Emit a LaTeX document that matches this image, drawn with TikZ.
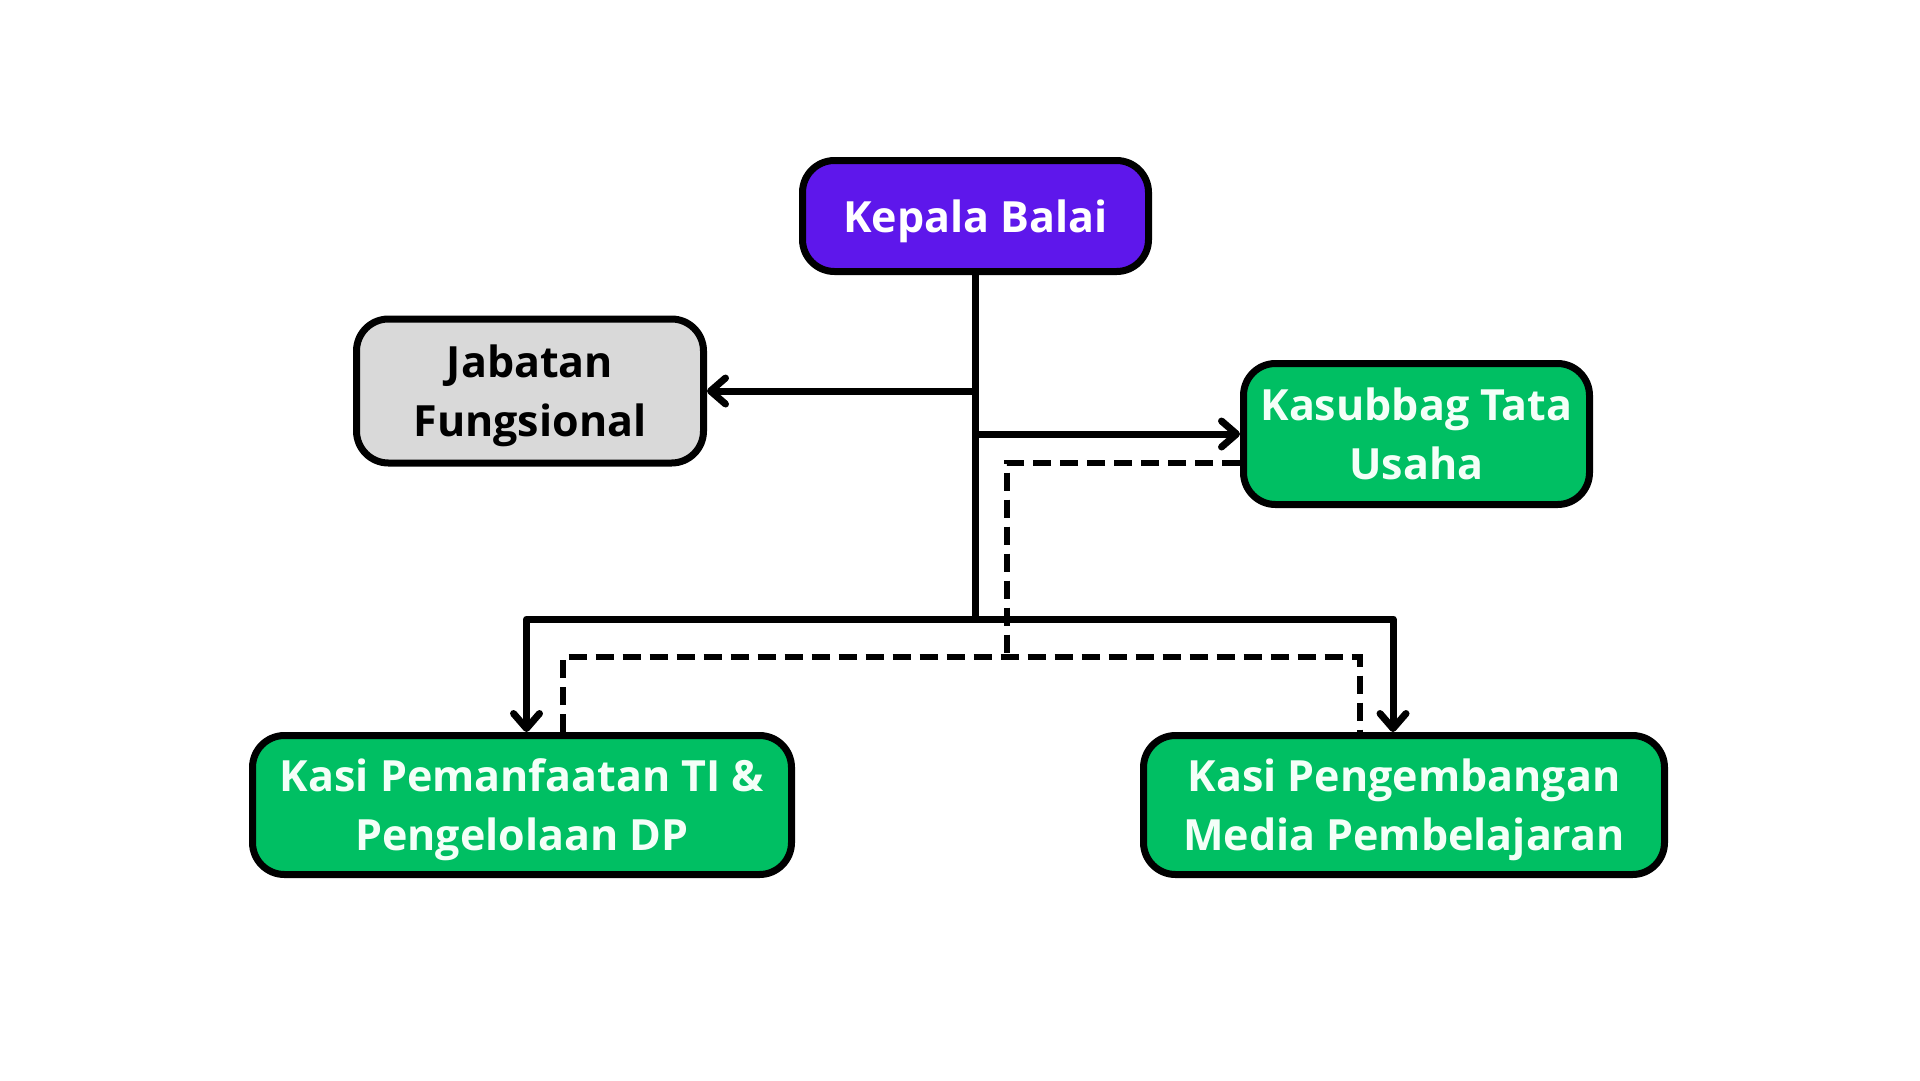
\documentclass[tikz,border=0pt]{standalone}
\usepackage{fontspec}
\setmainfont{Open Sans}
\usetikzlibrary{arrows.meta}
\definecolor{balaipurple}{HTML}{5E17EB}
\definecolor{balaigreen}{HTML}{00BF63}
\definecolor{balaigray}{HTML}{D9D9D9}
\definecolor{boxtext}{HTML}{F4FFF8}
\begin{document}
\begin{tikzpicture}[x=1pt, y=-1pt,
		unitbox/.style = {draw=black, line width=7pt, rounded corners=32pt, align=center, inner sep=0pt,
			font=\fontsize{43}{59}\selectfont\bfseries, text depth=0pt, minimum height=139pt},
		headbox/.style = {unitbox, fill=balaipurple, text=white, minimum width=346pt, minimum height=111pt},
		staffbox/.style = {unitbox, fill=balaigray, text=black, minimum width=347pt, minimum height=144pt},
		sectionbox/.style = {unitbox, fill=balaigreen, text=boxtext},
		link/.style = {line width=7pt, line join=round},
		tolink/.style = {link, -{Straight Barb[length=15pt, width=26pt, round]}},
		dashlink/.style = {line width=6pt, dash pattern=on 18pt off 9pt}
	]
	\useasboundingbox (0,0) rectangle (1920,1080);
	\node[headbox] (kepala) at (975.5,216) {Kepala Balai};
	\node[staffbox] (jabatan) at (530,391) {Jabatan\\Fungsional};
	\node[sectionbox, minimum width=346pt, minimum height=141pt] (tatausaha) at (1416.5,434) {Kasubbag Tata\\Usaha};
	\node[sectionbox, minimum width=539pt] (kasiti) at (522,805) {Kasi Pemanfaatan TI \&\\Pengelolaan DP};
	\node[sectionbox, minimum width=521pt] (kasimedia) at (1404,805) {Kasi Pengembangan\\Media Pembelajaran};
	\coordinate (bus) at (kepala.south |- 0,619);
	\coordinate (busleft) at (526.5,619);
	\coordinate (busright) at (1393,619);
	% garis komando
	\draw[link] (kepala.south) -- (bus);
	\draw[tolink] (kepala.south |- jabatan.east) -- (jabatan.east);
	\draw[tolink] (kepala.south |- tatausaha.west) -- (tatausaha.west);
	\draw[tolink] (bus) -- (busleft) -- (busleft |- kasiti.north);
	\draw[tolink] (bus) -- (busright) -- (busright |- kasimedia.north);
	% garis koordinasi
	\coordinate (tujoin) at (1007,462.5);
	\coordinate (dashbus) at (1007,657);
	\coordinate (dashleft) at (562.5,657);
	\coordinate (dashright) at (1360,657);
	\draw[dashlink] (tatausaha.west |- tujoin) -- (tujoin) -- (dashbus);
	\draw[dashlink] (dashleft |- kasiti.north) -- (dashleft) -- (dashright) -- (dashright |- kasimedia.north);
\end{tikzpicture}
\end{document}
